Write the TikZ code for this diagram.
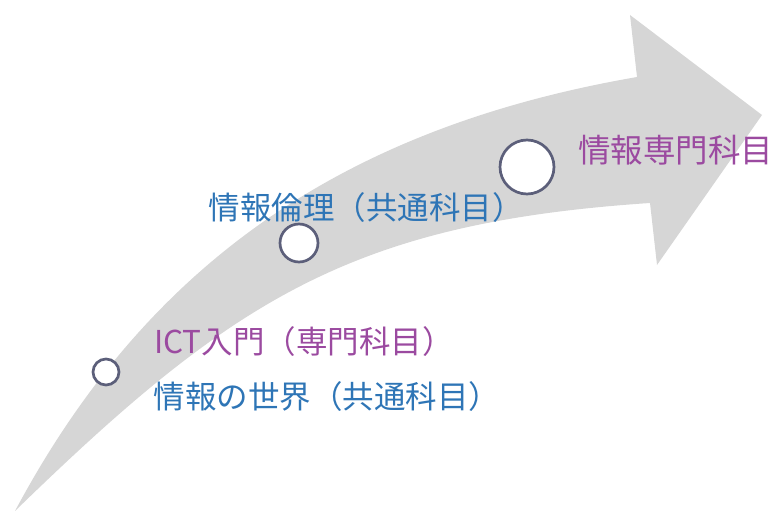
\documentclass[tikz,border=0pt]{standalone}
\usepackage{fontspec}
\newfontfamily\jp{Noto Sans CJK JP}
\definecolor{arrowgray}{HTML}{D6D6D6}
\definecolor{txtblue}{HTML}{2E75B6}
\definecolor{txtpurple}{HTML}{9B4AA0}
\definecolor{ringcol}{HTML}{5C5F7A}
\tikzset{
  ring/.style={circle, draw=ringcol, line width=2.7pt, fill=white, inner sep=0pt},
  lbl/.style={anchor=base west, inner sep=0pt, font=\jp\fontsize{31.5}{36}\selectfont},
  lblbig/.style={lbl, font=\jp\fontsize{32.5}{36}\selectfont},
}
\begin{document}
\begin{tikzpicture}[x=1pt, y=-1pt]
\useasboundingbox (0,0) rectangle (776,511);
% curved arrow
\fill[arrowgray] (15,511)
  .. controls (146.6,264.6) and (342,128) .. (637,77)
  -- (630,15) -- (762,115) -- (657,265) -- (650,203)
  .. controls (350,223) and (231,301) .. (15,511) -- cycle;
% rings
\node[ring, minimum size=26pt] (r1) at (106,372) {};
\node[ring, minimum size=38pt] (r2) at (299,243) {};
\node[ring, minimum size=54pt] (r3) at (527,167) {};
% labels
\node[lblbig, text=txtpurple] (t3) at (578,162) {情報専門科目};
\node[lbl, text=txtblue] (t2) at (208.5,219) {情報倫理（共通科目）};
\node[lbl, text=txtpurple] (t1a) at (154,353) {ICT入門（専門科目）};
\node[lbl, text=txtblue] (t1b) at (153.5,408) {情報の世界（共通科目）};
\end{tikzpicture}
\end{document}
